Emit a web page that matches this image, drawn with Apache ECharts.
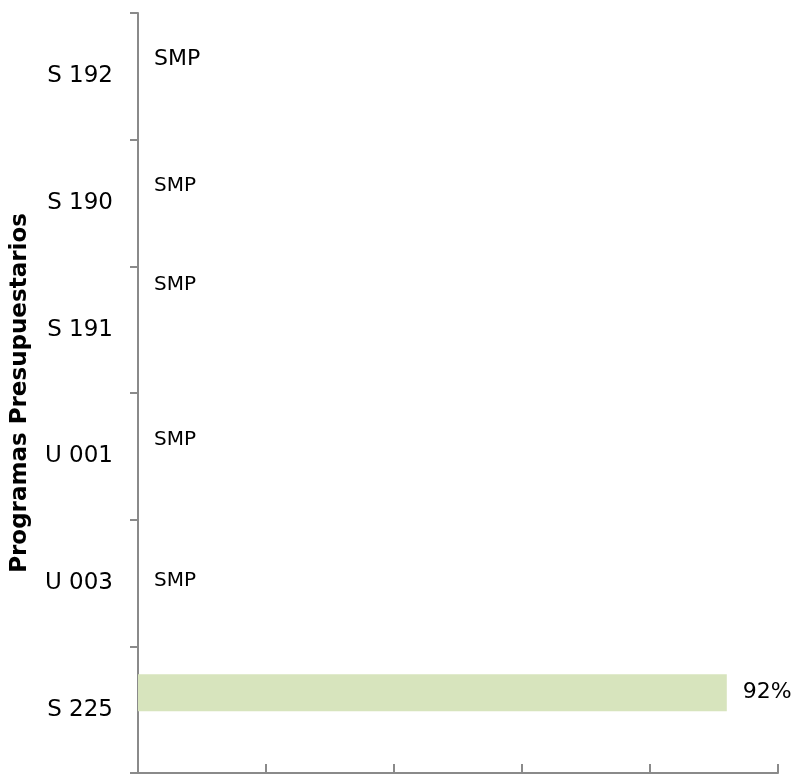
<!DOCTYPE html>
<html>
<head>
<meta charset="utf-8">
<script src="https://cdn.jsdelivr.net/npm/echarts@6/dist/echarts.min.js"></script>
<style>html,body{margin:0;padding:0;background:#fff}#c{width:799px;height:777px}</style>
</head>
<body>
<div id="c"></div>
<script>
// Categories listed bottom to top
var categories = ['S 225', 'U 003', 'U 001', 'S 191', 'S 190', 'S 192'];
// Percentage values (null = SMP, sin meta programada)
var values = [92, null, null, null, null, null];
var axisTitle = 'Programas Presupuestarios';
var xTicks = [0, 20, 40, 60, 80, 100];

// label styling per item (not data)
var labelDy = [0, 15, 0, -28, 0, 0];
var labelSize = [22, 20, 20, 20, 20, 22];

var chart = echarts.init(document.getElementById('c'));
var fontFam = 'DejaVu Sans';
var barData = values.map(function (v, i) {
  return {
    value: v === null ? 0 : v,
    label: { offset: [0, labelDy[i]], fontSize: labelSize[i] }
  };
});
chart.setOption({
  animation: false,
  grid: { left: 138, right: 21, top: 13, bottom: 4, containLabel: false },
  xAxis: {
    type: 'value',
    min: xTicks[0],
    max: xTicks[xTicks.length - 1],
    interval: xTicks[1] - xTicks[0],
    axisLabel: { show: false },
    splitLine: { show: false },
    axisLine: { show: true, lineStyle: { color: '#8a8a8a', width: 2 } },
    axisTick: { show: true, inside: true, length: 9, lineStyle: { color: '#8a8a8a', width: 2 } }
  },
  yAxis: {
    type: 'category',
    data: categories,
    name: axisTitle,
    nameLocation: 'middle',
    nameGap: 106,
    nameRotate: 90,
    nameTextStyle: { fontFamily: fontFam, fontWeight: 'bold', fontSize: 23, color: '#000' },
    axisLine: { show: true, lineStyle: { color: '#8a8a8a', width: 2 } },
    axisTick: { show: true, length: 8, lineStyle: { color: '#8a8a8a', width: 2 } },
    axisLabel: { margin: 25, fontFamily: fontFam, fontSize: 23, color: '#000' }
  },
  series: [
    {
      type: 'bar',
      data: barData,
      barWidth: 37,
      barGap: '-8%',
      itemStyle: { color: '#D7E4BD' },
      label: {
        show: true,
        position: 'right',
        distance: 16,
        fontFamily: fontFam,
        color: '#000',
        formatter: function (p) {
          return values[p.dataIndex] === null ? 'SMP' : p.value + '%';
        }
      }
    },
    {
      type: 'bar',
      data: categories.map(function () { return null; }),
      barWidth: 37,
      silent: true
    }
  ]
});
</script>
</body>
</html>
